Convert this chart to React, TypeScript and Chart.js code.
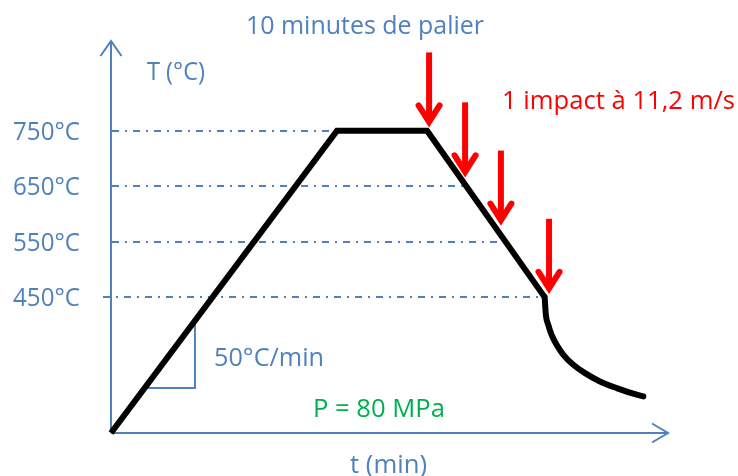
import React, { useEffect, useRef } from "react";
import { Chart, registerables } from "chart.js";

Chart.register(...registerables);

// ---- data (time in min, temperature in °C, schematic) ----
const PROFILE_TIME = [0, 11.36, 15.89, 21.8];
const PROFILE_TEMP = [205, 750, 750, 450];
const COOL_TIME = [21.8, 21.86, 21.98, 22.15, 22.4, 22.74, 23.24, 23.83, 24.58, 25.42, 26.43, 26.76];
const COOL_TEMP = [450, 418, 400, 382, 364, 346, 328, 313, 298, 286, 274, 271];
const LEVELS = [750, 650, 550, 450];
const LEVEL_LABELS = ["750°C", "650°C", "550°C", "450°C"];
const IMPACT_TIME = [15.99, 17.8, 19.6, 22.02];
const IMPACT_TIP_TEMP = [756, 666, 579, 456];
const SLOPE_TIME = [1.69, 4.22];
const T_MIN = 205;
const T_MAX = 910;
const TIME_MAX = 28;

const TITLE = "10 minutes de palier";
const Y_TITLE = "T (°C)";
const X_TITLE = "t (min)";
const IMPACT_TEXT = "1 impact à 11,2 m/s";
const SLOPE_TEXT = "50°C/min";
const PRESSURE_TEXT = "P = 80 MPa";

const BLUE = "#4F81BD";
const RED = "#FF0000";
const GREEN = "#00B050";
const FONT = '26px "Open Sans", "DejaVu Sans", sans-serif';

function fitText(ctx: CanvasRenderingContext2D, text: string, left: number, base: number, width: number, color: string) {
  ctx.save();
  ctx.font = FONT;
  ctx.fillStyle = color;
  ctx.textAlign = "left";
  ctx.textBaseline = "alphabetic";
  const w = ctx.measureText(text).width;
  ctx.translate(left, base);
  ctx.scale(width / w, 1);
  ctx.fillText(text, 0, 0);
  ctx.restore();
}

function lastCrossing(level: number): number {
  let res = 0;
  for (let i = 0; i < PROFILE_TIME.length - 1; i++) {
    const a = PROFILE_TEMP[i], b = PROFILE_TEMP[i + 1];
    if ((level - a) * (level - b) <= 0 && a !== b) {
      res = PROFILE_TIME[i] + ((level - a) / (b - a)) * (PROFILE_TIME[i + 1] - PROFILE_TIME[i]);
    } else if (a === b && a === level) {
      res = PROFILE_TIME[i + 1];
    }
  }
  return res;
}

function rampTemp(t: number): number {
  return PROFILE_TEMP[0] + ((PROFILE_TEMP[1] - PROFILE_TEMP[0]) * (t - PROFILE_TIME[0])) / (PROFILE_TIME[1] - PROFILE_TIME[0]);
}

const overlay = {
  id: "overlay",
  beforeDatasetsDraw(chart: any) {
    const ctx: CanvasRenderingContext2D = chart.ctx;
    const xs = chart.scales.x;
    const ys = chart.scales.y;
    const X = (v: number) => xs.getPixelForValue(v);
    const Y = (v: number) => ys.getPixelForValue(v);
    const ox = X(0);
    const oy = Y(T_MIN);
    ctx.save();
    // dash-dot level lines
    ctx.strokeStyle = BLUE;
    ctx.lineWidth = 2;
    ctx.setLineDash([7, 6, 2, 6]);
    LEVELS.forEach((lv, i) => {
      const y = Math.round(Y(lv));
      const start = i === LEVELS.length - 1 ? ox - 8 : ox + 1;
      ctx.beginPath();
      ctx.moveTo(start, y);
      ctx.lineTo(X(lastCrossing(lv)) - 3, y);
      ctx.stroke();
    });
    ctx.setLineDash([]);
    // axes
    const topY = chart.chartArea.top - 1;
    const rightX = X(TIME_MAX);
    ctx.lineWidth = 2;
    ctx.lineJoin = "miter";
    ctx.beginPath();
    ctx.moveTo(ox, oy);
    ctx.lineTo(ox, topY);
    ctx.moveTo(ox, oy);
    ctx.lineTo(rightX, oy);
    ctx.stroke();
    ctx.beginPath();
    ctx.moveTo(ox - 10.5, topY + 15);
    ctx.lineTo(ox, topY);
    ctx.lineTo(ox + 10.5, topY + 15);
    ctx.stroke();
    ctx.beginPath();
    ctx.moveTo(rightX - 16, oy - 9.5);
    ctx.lineTo(rightX, oy);
    ctx.lineTo(rightX - 16, oy + 9.5);
    ctx.stroke();
    // slope triangle
    const t1 = SLOPE_TIME[0], t2 = SLOPE_TIME[1];
    ctx.beginPath();
    ctx.moveTo(X(t1), Y(rampTemp(t1)));
    ctx.lineTo(X(t2), Y(rampTemp(t1)));
    ctx.lineTo(X(t2), Y(rampTemp(t2)));
    ctx.stroke();
    ctx.restore();
  },
  afterDatasetsDraw(chart: any) {
    const ctx: CanvasRenderingContext2D = chart.ctx;
    const xs = chart.scales.x;
    const ys = chart.scales.y;
    const X = (v: number) => xs.getPixelForValue(v);
    const Y = (v: number) => ys.getPixelForValue(v);
    ctx.save();
    // impact arrows
    ctx.strokeStyle = RED;
    ctx.lineWidth = 6;
    IMPACT_TIME.forEach((t, i) => {
      const x = X(t);
      const tip = Y(IMPACT_TIP_TEMP[i]);
      ctx.lineCap = "butt";
      ctx.beginPath();
      ctx.moveTo(x, tip - 75);
      ctx.lineTo(x, tip - 6);
      ctx.stroke();
      ctx.lineCap = "round";
      ctx.lineJoin = "miter";
      ctx.beginPath();
      ctx.moveTo(x - 10.5, tip - 22);
      ctx.lineTo(x, tip - 5.5);
      ctx.lineTo(x + 10.5, tip - 22);
      ctx.stroke();
    });
    ctx.restore();
    // texts
    LEVELS.forEach((lv, i) => {
      fitText(ctx, LEVEL_LABELS[i], 13, Y(lv) + 9, 67, BLUE);
    });
    fitText(ctx, TITLE, 246, 33.5, 238, BLUE);
    fitText(ctx, Y_TITLE, 147, 79.5, 58, BLUE);
    fitText(ctx, IMPACT_TEXT, 502, 109.3, 233, RED);
    fitText(ctx, SLOPE_TEXT, 214, 366, 110, BLUE);
    fitText(ctx, PRESSURE_TEXT, 313, 417, 132, GREEN);
    fitText(ctx, X_TITLE, 350, 473, 77, BLUE);
  },
};

export default function App() {
  const ref = useRef<HTMLCanvasElement | null>(null);
  useEffect(() => {
    if (!ref.current) return;
    const chart = new Chart(ref.current, {
      type: "line",
      data: {
        datasets: [
          {
            data: PROFILE_TIME.map((t, i) => ({ x: t, y: PROFILE_TEMP[i] })),
            borderColor: "#000000",
            borderWidth: 6,
            pointRadius: 0,
            tension: 0,
            borderJoinStyle: "miter",
            borderCapStyle: "butt",
            clip: false,
          } as any,
          {
            data: COOL_TIME.map((t, i) => ({ x: t, y: COOL_TEMP[i] })),
            borderColor: "#000000",
            borderWidth: 6,
            pointRadius: 0,
            cubicInterpolationMode: "monotone",
            borderCapStyle: "round",
            borderJoinStyle: "round",
            clip: false,
          } as any,
        ],
      },
      options: {
        responsive: false,
        animation: false,
        events: [],
        layout: { padding: { left: 111, right: 70, top: 42, bottom: 43 } },
        scales: {
          x: { type: "linear", min: 0, max: TIME_MAX, display: false },
          y: { type: "linear", min: T_MIN, max: T_MAX, display: false },
        },
        plugins: { legend: { display: false }, tooltip: { enabled: false }, title: { display: false } },
      },
      plugins: [overlay],
    });
    return () => chart.destroy();
  }, []);
  return (
    <div style={{ position: "absolute", left: 0, top: 0, width: 738, height: 476, background: "#ffffff" }}>
      <canvas ref={ref} width={738} height={476} style={{ display: "block" }} />
    </div>
  );
}
